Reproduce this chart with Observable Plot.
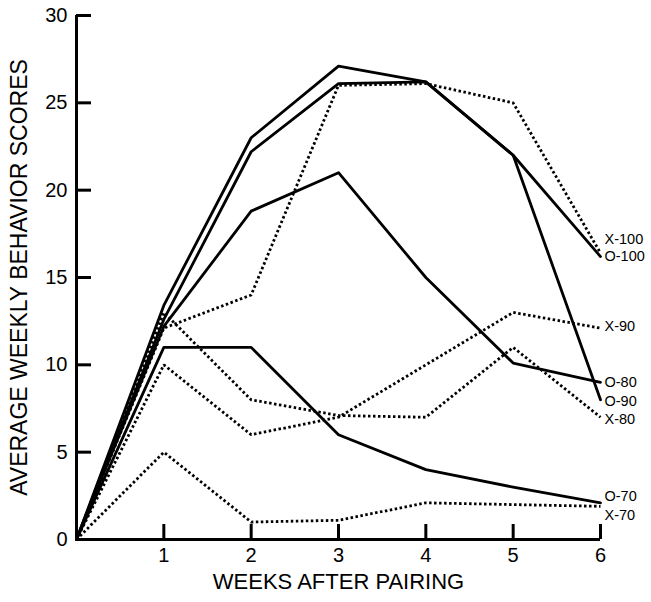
<!DOCTYPE html>
<html><head><meta charset="utf-8">
<script src="https://cdn.jsdelivr.net/npm/d3@7"></script>
<script src="https://cdn.jsdelivr.net/npm/@observablehq/plot@0.6"></script>
<style>body{margin:0;background:#fff} #chart svg{display:block}</style>
</head><body><div id="chart"></div>
<script>
const weeks = [0, 1, 2, 3, 4, 5, 6];
const O100 = [0, 13.4, 23.0, 27.1, 26.2, 22.0, 16.2];
const O90  = [0, 12.6, 22.2, 26.1, 26.2, 22.0, 8.0];
const O80  = [0, 12.2, 18.8, 21.0, 15.0, 10.1, 9.0];
const O70  = [0, 11.0, 11.0, 6.0, 4.0, 3.0, 2.1];
const X100 = [0, 12.1, 14.0, 26.0, 26.1, 25.0, 16.4];
const X90  = [0, 10.0, 6.0, 7.0, 10.0, 13.0, 12.1];
const X80  = [0, 13.0, 8.0, 7.1, 7.0, 11.0, 7.0];
const X70  = [0, 5.0, 1.0, 1.1, 2.1, 2.0, 1.9];
const solidSeries = {"O-100": O100, "O-90": O90, "O-80": O80, "O-70": O70};
const dottedSeries = {"X-100": X100, "X-90": X90, "X-80": X80, "X-70": X70};
const endLabels = ["X-100", "O-100", "X-90", "O-80", "O-90", "X-80", "O-70", "X-70"];
const endLabelY = [17.2, 16.2, 12.2, 9.0, 7.9, 6.9, 2.45, 1.4];
const xTicks = [1, 2, 3, 4, 5, 6];
const yTicks = [0, 5, 10, 15, 20, 25, 30];
const yTitle = "AVERAGE WEEKLY BEHAVIOR SCORES";
const xTitle = "WEEKS AFTER PAIRING";

const toRows = (obj) => Object.entries(obj).flatMap(([name, vals]) =>
  weeks.map((w, i) => ({series: name, week: w, value: vals[i]})));
const solidRows = toRows(solidSeries);
const dottedRows = toRows(dottedSeries);

const W = 651, H = 602;
const mL = 76, mR = 51, mT = 15, mB = 63;
const fw = W - mL - mR, fh = H - mT - mB;
const font = "'Liberation Sans', Arial, Helvetica, sans-serif";

const chart = Plot.plot({
  width: W, height: H,
  marginLeft: mL, marginRight: mR, marginTop: mT, marginBottom: mB,
  style: {fontFamily: font, background: "#fff", color: "#000"},
  x: {domain: [0, 6]},
  y: {domain: [0, 30]},
  marks: [
    Plot.line(dottedRows, {x: "week", y: "value", z: "series", stroke: "#000", strokeWidth: 2.8, strokeDasharray: "2.5,2.5", strokeLinecap: "butt", strokeLinejoin: "miter"}),
    Plot.line(solidRows, {x: "week", y: "value", z: "series", stroke: "#000", strokeWidth: 2.8, strokeLinejoin: "round"}),
    Plot.ruleX([0], {stroke: "#000", strokeWidth: 3}),
    Plot.ruleY([0], {stroke: "#000", strokeWidth: 3}),
    Plot.tickX(xTicks, {x: d => d, stroke: "#000", strokeWidth: 3, insetTop: fh - 15}),
    Plot.tickY(yTicks.slice(1), {y: d => d, stroke: "#000", strokeWidth: 3, insetRight: fw - 15}),
    Plot.axisX(xTicks, {tickSize: 0, tickPadding: 8, fontSize: 20, label: null}),
    Plot.axisY(yTicks, {tickSize: 0, tickPadding: 9, fontSize: 20, label: null}),
    Plot.text(endLabels, {x: () => 6, y: (d, i) => endLabelY[i], text: d => d, textAnchor: "start", dx: 4, fontSize: 14.5}),
    Plot.text([yTitle], {frameAnchor: "left", textAnchor: "middle", rotate: -90, dx: -57, fontSize: 23, letterSpacing: "0.5px"}),
    Plot.text([xTitle], {frameAnchor: "bottom", textAnchor: "middle", dy: 49, fontSize: 22, letterSpacing: "1px"})
  ]
});
document.getElementById("chart").appendChild(chart);
</script>
</body></html>
